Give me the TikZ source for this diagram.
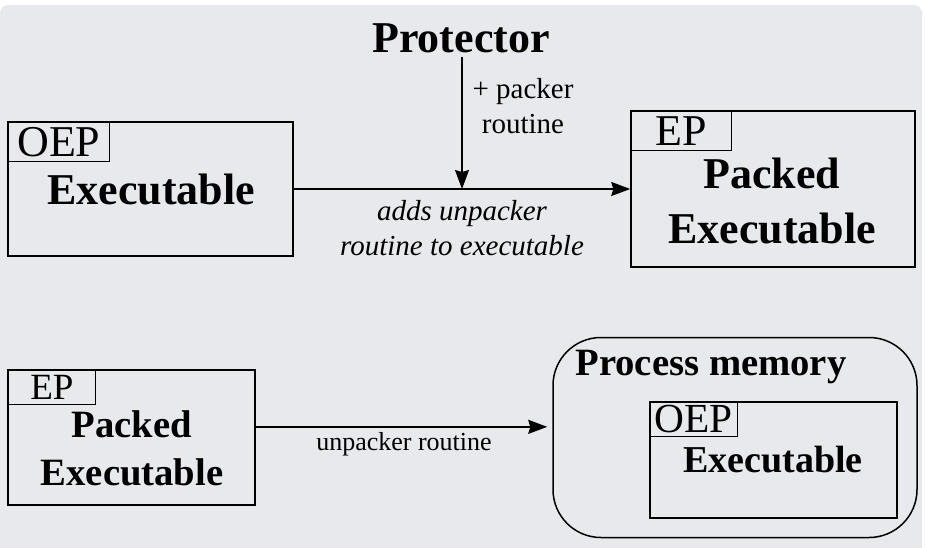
\documentclass[tikz,border=0pt]{standalone}
\usepackage{fontspec}
\setmainfont{Liberation Serif}
\usetikzlibrary{arrows.meta,calc}
\newdimen\px \px=0.75pt
\definecolor{panel}{RGB}{232,233,237}
\tikzset{
	box/.style={draw, line width=1.5\px, inner sep=0pt},
	tag/.style={draw, line width=1.2\px, inner sep=0pt, anchor=north west},
	arr/.style={line width=1.5\px, -{Stealth[length=14.25pt, width=10.5pt, inset=1.5pt]}},
	big/.style={font=\fontsize{33}{41.25}\selectfont},
	bigbf/.style={font=\fontsize{33}{41.25}\selectfont\bfseries},
	note/.style={font=\fontsize{21.75}{26.25}\selectfont, align=center},
}
\begin{document}
\begin{tikzpicture}[x=0.75pt, y=-0.75pt]
	\useasboundingbox (0,0) rectangle (925,547);
	\fill[panel, rounded corners=8\px] (0,5) rectangle (922,570);
	% packing step
	\node[box, minimum width=285\px, minimum height=134\px] (exe) at (150.5,189) {};
	\node[tag, big, minimum width=102\px, minimum height=40\px] (oep) at (exe.north west) {OEP};
	\node[bigbf, anchor=base] (exetxt) at (151,204) {Executable};
	\node[box, minimum width=284\px, minimum height=156\px] (pck) at (773,189) {};
	\node[tag, big, minimum width=101\px, minimum height=40\px] (ep) at (pck.north west) {EP};
	\node[bigbf, align=center] (pcktxt) at (772,200.5) {Packed\\Executable};
	\node[bigbf, anchor=base] (prot) at (461,52) {Protector};
	\coordinate (join) at ($(exe.east)!0.5!(pck.west)$);
	\draw[arr] (exe) -- (pck);
	\draw[arr] (prot.south -| join) -- (join);
	\node[note] (plus) at (523,106) {+ packer\\routine};
	\node[note, font=\fontsize{21.75}{26.25}\selectfont\itshape] (adds) at (462,228.5) {adds unpacker\\routine to executable};
	% unpacking at run time
	\node[box, minimum width=247\px, minimum height=135\px] (pck2) at (131.5,437.5) {};
	\node[tag, minimum width=88\px, minimum height=35\px, font=\fontsize{27.75}{33}\selectfont] (ep2) at (pck2.north west) {EP};
	\node[font=\fontsize{29}{36}\selectfont\bfseries, align=center] (pck2txt) at (132,448) {Packed\\Executable};
	\node[box, rounded corners=48\px, minimum width=364\px, minimum height=200\px] (mem) at (735,437.5) {};
	\node[font=\fontsize{29}{35}\selectfont\bfseries, anchor=base] (memtxt) at (711,375) {Process memory};
	\node[box, minimum width=247\px, minimum height=116\px] (exe2) at (773.5,460) {};
	\node[tag, minimum width=88\px, minimum height=35\px, font=\fontsize{31}{37}\selectfont] (oep2) at (exe2.north west) {OEP};
	\node[font=\fontsize{28.5}{34}\selectfont\bfseries, anchor=base] (exe2txt) at (773,472) {Executable};
	\draw[arr, shorten >=5\px] ([yshift=8pt]pck2.east) -- ([yshift=8pt]mem.west)
		node[midway, below, inner sep=3.5pt, font=\fontsize{19.5}{23}\selectfont] (unp) {unpacker routine};
\end{tikzpicture}
\end{document}
